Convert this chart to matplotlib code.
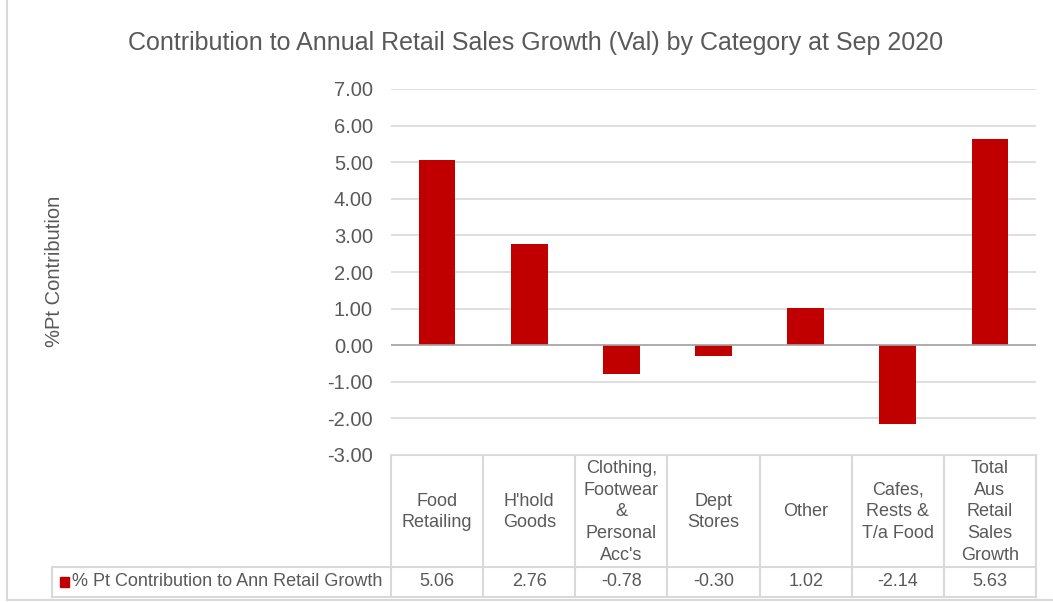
import matplotlib.pyplot as plt
from matplotlib import patches
from matplotlib.lines import Line2D

categories = [
    "Food\nRetailing",
    "H'hold\nGoods",
    "Clothing,\nFootwear\n&\nPersonal\nAcc's",
    "Dept\nStores",
    "Other",
    "Cafes,\nRests &\nT/a Food",
    "Total\nAus\nRetail\nSales\nGrowth",
]
contribution = [5.06, 2.76, -0.78, -0.30, 1.02, -2.14, 5.63]
series_name = "% Pt Contribution to Ann Retail Growth"
y_ticks = [-3, -2, -1, 0, 1, 2, 3, 4, 5, 6, 7]

TITLE = "Contribution to Annual Retail Sales Growth (Val) by Category at Sep 2020"
BAR_COLOR = "#C00000"
TEXT_COLOR = "#595959"
GRID_COLOR = "#D9D9D9"

plt.rcParams["font.family"] = ["Liberation Sans", "DejaVu Sans"]

W, H = 1053, 602
fig = plt.figure(figsize=(W / 100, H / 100), dpi=100)

# pixel layout of the plot area
left_px, right_px = 391, 1036
top_px, bottom_px = 89, 455
ax = fig.add_axes(
    [left_px / W, 1 - bottom_px / H, (right_px - left_px) / W, (bottom_px - top_px) / H]
)

x = range(len(categories))
ax.bar(x, contribution, width=0.4, color=BAR_COLOR, zorder=3)
ax.set_xlim(-0.5, len(categories) - 0.5)
ax.set_ylim(y_ticks[0], y_ticks[-1])
ax.set_yticks(y_ticks)
ax.set_yticklabels([f"{t:.2f}" for t in y_ticks], fontsize=14.5, color=TEXT_COLOR)
ax.tick_params(axis="y", length=0, pad=13)
ax.set_xticks([])
ax.grid(axis="y", color=GRID_COLOR, linewidth=1.2, zorder=0)
ax.axhline(0, color="#A6A6A6", linewidth=1.2, zorder=4)
for s in ax.spines.values():
    s.set_visible(False)

# overlay in pixel coordinates for title, table and frame
ov = fig.add_axes([0, 0, 1, 1], zorder=-1)
ov.set_xlim(0, W)
ov.set_ylim(H, 0)
ov.axis("off")
ov.patch.set_alpha(0)

ov.add_patch(patches.Rectangle((7, -5), W, H + 3, fill=False, edgecolor=GRID_COLOR, linewidth=1.5))

ov.text(536, 43, TITLE, ha="center", va="center", fontsize=18, color=TEXT_COLOR)
ov.text(55, 271, "%Pt Contribution", ha="center", va="center", rotation=90,
        fontsize=14.5, color=TEXT_COLOR)

# data table
col_w = (right_px - left_px) / len(categories)
row_top, row_mid, row_bot = 455, 567, 597
legend_left = 52
line_kw = dict(color=GRID_COLOR, linewidth=1.5)

ov.add_line(Line2D([left_px, right_px], [row_top, row_top], **line_kw))
ov.add_line(Line2D([legend_left, right_px], [row_mid, row_mid], **line_kw))
ov.add_line(Line2D([legend_left, right_px], [row_bot, row_bot], **line_kw))
ov.add_line(Line2D([legend_left, legend_left], [row_mid, row_bot], **line_kw))
for i in range(len(categories) + 1):
    xe = left_px + i * col_w
    ov.add_line(Line2D([xe, xe], [row_top, row_bot], **line_kw))

for i, (cat, val) in enumerate(zip(categories, contribution)):
    xc = left_px + (i + 0.5) * col_w
    ov.text(xc, (row_top + row_mid) / 2 + 1, cat, ha="center", va="center",
            fontsize=13, color=TEXT_COLOR, linespacing=1.36)
    ov.text(xc, (row_mid + row_bot) / 2, f"{val:.2f}", ha="center", va="center",
            fontsize=13, color=TEXT_COLOR)

ov.add_patch(patches.Rectangle((60, 577), 9, 10, color=BAR_COLOR))
ov.text(72, (row_mid + row_bot) / 2, series_name, ha="left", va="center",
        fontsize=13, color=TEXT_COLOR)

fig.savefig("out.png", dpi=100)
